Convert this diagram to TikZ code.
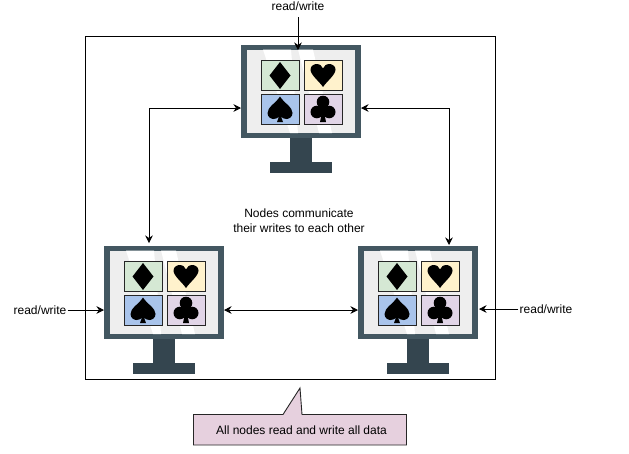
\documentclass[tikz,border=0pt]{standalone}
\usepackage{fontspec}
\setmainfont{Liberation Sans}
\usetikzlibrary{arrows.meta}
\definecolor{bezel}{HTML}{435761}
\definecolor{standc}{HTML}{34454F}
\definecolor{glass}{HTML}{EEEEEE}
\definecolor{cardA}{HTML}{D5E8D4}
\definecolor{cardB}{HTML}{FFF2CC}
\definecolor{cardC}{HTML}{A9C4EB}
\definecolor{cardD}{HTML}{E1D5E7}
\definecolor{noteC}{HTML}{E6D0DE}
\tikzset{
  x=1pt,y=-1pt,
  screen/.style={fill=bezel,draw=none,minimum width=120pt,minimum height=93pt,inner sep=0pt,outer sep=0pt},
  standpart/.style={fill=standc,draw=none},
  card/.style={draw=black!85,line width=0.8pt,minimum width=38pt,minimum height=30pt,inner sep=0pt},
  suit/.style={fill=black,draw=none},
  glare/.style={fill=white,draw=none},
  label/.style={font=\fontsize{12}{15}\selectfont,text=black,inner sep=0pt,align=center},
  link/.style={draw=black,line width=0.8pt,-{Stealth[length=7.5pt,width=7.5pt]}},
  biglink/.style={draw=black,line width=0.8pt,{Stealth[length=7.5pt,width=7.5pt]}-{Stealth[length=7.5pt,width=7.5pt]}},
  frame/.style={draw=black,line width=0.9pt}
}
% name, x shift, y shift (geometry given for the top monitor)
\newcommand{\monitorpic}[3]{%
\begin{scope}[shift={(#2,#3)}]
  \fill[standpart] (290,138) rectangle (312,162);
  \fill[standpart] (270,162) rectangle (332,173);
  \node[screen] (#1) at (301,91.5) {};
  \fill[glass] (247,49.5) rectangle (355,133);
  \fill[glare] (263,49.5) -- (291,49.5) -- (298,133) -- (290,133) -- cycle;
  \fill[glare] (298,49.5) -- (313,49.5) -- (332,133) -- (319,133) -- cycle;
  \node[card,fill=cardA] (#1a) at (280,75.5) {};
  \node[card,fill=cardB] (#1b) at (323,75.5) {};
  \node[card,fill=cardC] (#1c) at (280,109) {};
  \node[card,fill=cardD] (#1d) at (323,109) {};
  % diamond
  \fill[suit] (280,62) -- (290.5,75.5) -- (280,89) -- (269.5,75.5) -- cycle;
  % heart
  \fill[suit] (323,87) .. controls (319,81) and (310.5,75) .. (310.5,69.5)
     .. controls (310.5,66) and (314,64) .. (316.5,64)
     .. controls (320,64) and (322,66) .. (323,68.5)
     .. controls (324,66) and (326,64) .. (329.5,64)
     .. controls (332,64) and (335.5,66) .. (335.5,69.5)
     .. controls (335.5,75) and (327,81) .. (323,87) -- cycle;
  % spade
  \fill[suit] (280,96.5) .. controls (284,103) and (292.5,107) .. (292.5,113)
     .. controls (292.5,117) and (289,119) .. (286.5,119)
     .. controls (284,119) and (282,118) .. (281,116.5)
     -- (283,122) -- (277,122)
     -- (279,116.5)
     .. controls (278,118) and (276,119) .. (273.5,119)
     .. controls (271,119) and (267.5,117) .. (267.5,113)
     .. controls (267.5,107) and (276,103) .. (280,96.5) -- cycle;
  % club
  \fill[suit] (323,102) circle[radius=6.3pt];
  \fill[suit] (316.8,112) circle[radius=6.3pt];
  \fill[suit] (329.2,112) circle[radius=6.3pt];
  \fill[suit] (321,105) rectangle (325,114);
  \fill[suit] (322,112) -- (324,112) -- (326,122) -- (320,122) -- cycle;
\end{scope}}
\begin{document}
\begin{tikzpicture}
  \useasboundingbox (0,0) rectangle (629,453);
  \draw[frame] (85,36) rectangle (495,379);
  \monitorpic{mt}{0}{0}
  \monitorpic{ml}{-137}{201}
  \monitorpic{mr}{117}{201}
  \node[label] (rwt) at (298,6) {read/write};
  \node[label] (rwl) at (40,310) {read/write};
  \node[label] (rwr) at (546,309) {read/write};
  \node[label] (msg) at (299,221) {Nodes communicate\\their writes to each other};
  \coordinate (mtin) at (298,50);
  \coordinate (rwtout) at (298,17);
  \draw[link] (rwtout) -- (mtin);
  \draw[link] ([xshift=1pt]rwl.east) -- (ml.west |- rwl.east);
  \draw[link] ([xshift=-1pt]rwr.west) -- ([xshift=1pt]mr.east |- rwr.west);
  \coordinate (mtl) at (mt.west |- 0,108);
  \coordinate (mtr) at (mt.east |- 0,108);
  \coordinate (mlt) at (149,243);
  \coordinate (mrt) at (449,245);
  \coordinate (bendl) at (149,108);
  \coordinate (bendr) at (449,108);
  \draw[biglink] (mtl) -- (bendl) -- (mlt);
  \draw[biglink] (mtr) -- (bendr) -- (mrt);
  \draw[biglink] (ml.east |- 0,310) -- (mr.west |- 0,310);
  \draw[draw=black!85,line width=0.9pt,fill=noteC] (193.5,414.5) -- (283,414.5) -- (300,388) -- (302,414.5) -- (406.5,414.5) -- (406.5,445) -- (193.5,445) -- cycle;
  \node[label] (note) at (301.5,430) {All nodes read and write all data};
\end{tikzpicture}
\end{document}
